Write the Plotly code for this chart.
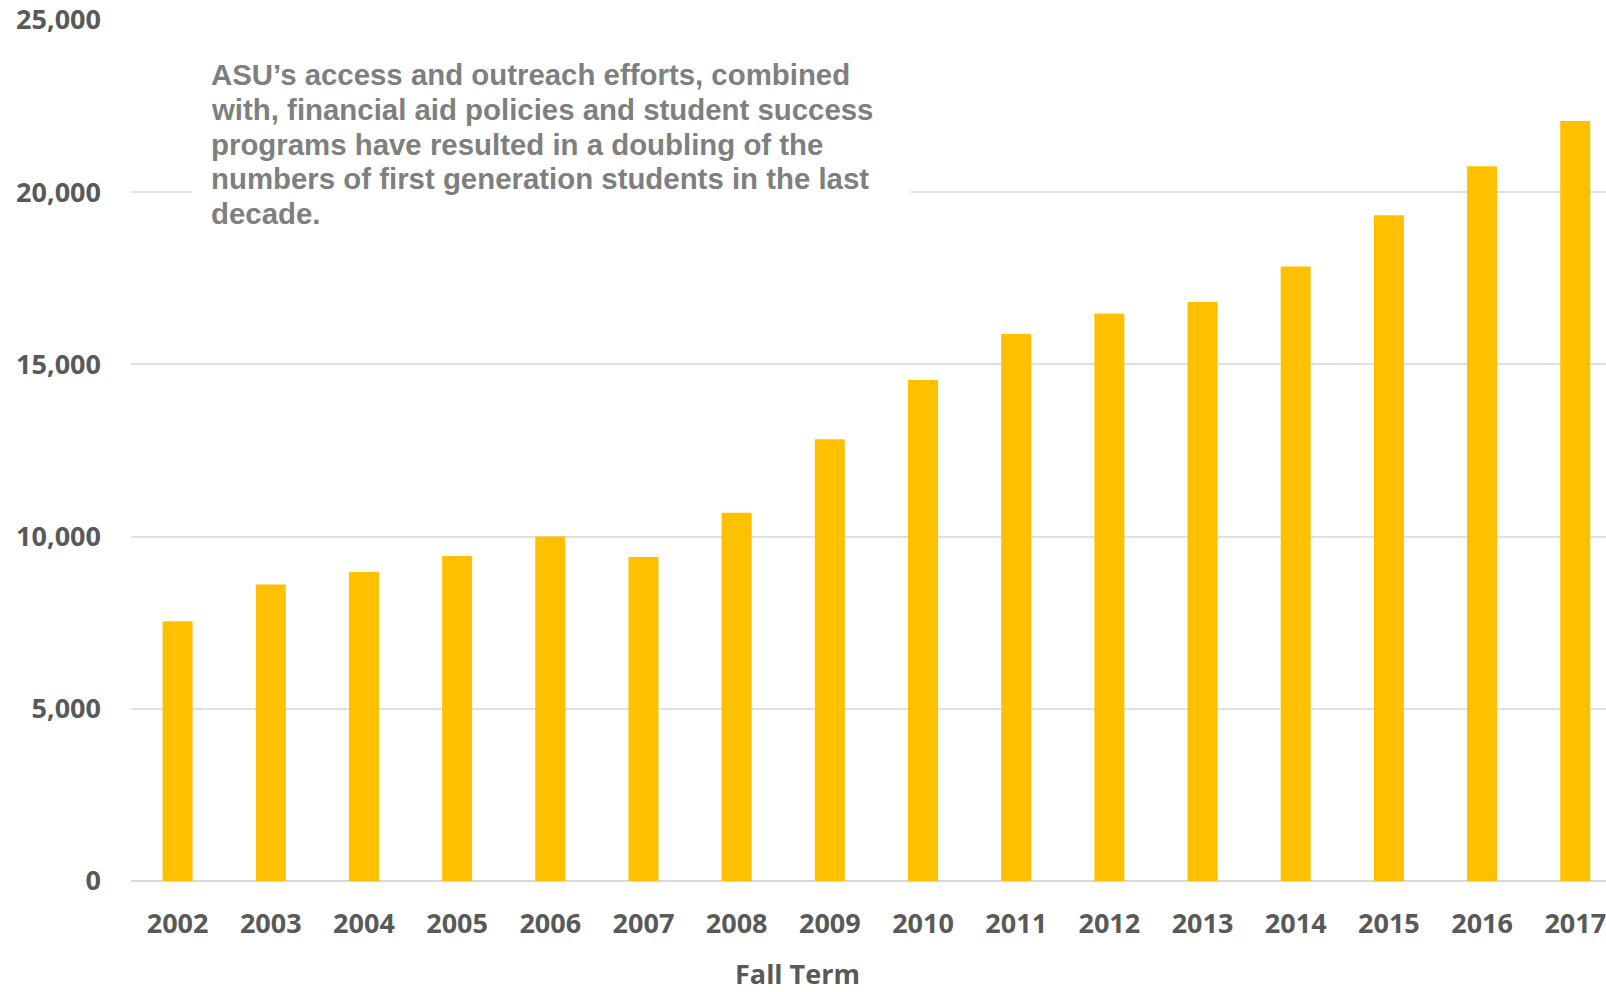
import plotly.graph_objects as go

years = ["2002", "2003", "2004", "2005", "2006", "2007", "2008", "2009",
         "2010", "2011", "2012", "2013", "2014", "2015", "2016", "2017"]
students = [7540, 8610, 8970, 9440, 10000, 9410, 10690, 12830,
            14550, 15880, 16480, 16810, 17840, 19330, 20750, 22070]
y_ticks = [0, 5000, 10000, 15000, 20000, 25000]
note_lines = [
    "ASU’s access and outreach efforts, combined",
    "with, financial aid policies and student success",
    "programs have resulted in a doubling of the",
    "numbers of first generation students in the last",
    "decade.",
]

W, H = 1606, 992
L, T, B = 131.4, 19.5, 111
PH = H - B - T  # plot height in px
PW = W - L


def px_x(p):
    return (p - L) / PW


def px_y(p):
    return (H - B - p) / PH


fig = go.Figure()
fig.add_trace(go.Bar(x=years, y=students, marker_color="#FFC000",
                     marker_line_width=0, width=0.322, hoverinfo="x+y"))

tickfont = dict(family="Open Sans", size=27, color="#595959", weight="bold")

fig.update_layout(
    width=W, height=H,
    margin=dict(l=L, r=0, t=T, b=B, pad=0),
    paper_bgcolor="white", plot_bgcolor="white",
    showlegend=False,
    xaxis=dict(type="category", range=[-0.5, 15.33], showgrid=False,
               showline=False, zeroline=False, ticks="",
               tickfont=tickfont, ticklabelstandoff=24, automargin=False),
    yaxis=dict(range=[0, 25000], tickvals=y_ticks, tickformat=",",
               showgrid=True, gridcolor="#e0e0e0", gridwidth=1.5,
               zeroline=True, zerolinecolor="#d9d9d9", zerolinewidth=2,
               showline=False, ticks="", tickfont=tickfont,
               ticklabelstandoff=29, automargin=False),
)

# white box behind the note (breaks the 20,000 gridline like the original)
fig.add_shape(type="rect", xref="paper", yref="paper",
              x0=px_x(192), x1=px_x(911), y0=px_y(240), y1=px_y(50),
              fillcolor="white", line_width=0, layer="above")

for i, line in enumerate(note_lines):
    fig.add_annotation(
        text=line, xref="paper", yref="paper",
        x=px_x(210), y=px_y(74 + i * 34.8),
        xanchor="left", yanchor="middle", align="left", showarrow=False,
        borderpad=0,
        font=dict(family="Liberation Sans", size=29.4, color="#7f7f7f",
                  weight="bold"),
    )

fig.add_annotation(
    text="Fall Term", xref="paper", yref="paper",
    x=px_x(798), y=px_y(974),
    xanchor="center", yanchor="middle", showarrow=False,
    font=tickfont,
)

fig.write_html("out.html")
